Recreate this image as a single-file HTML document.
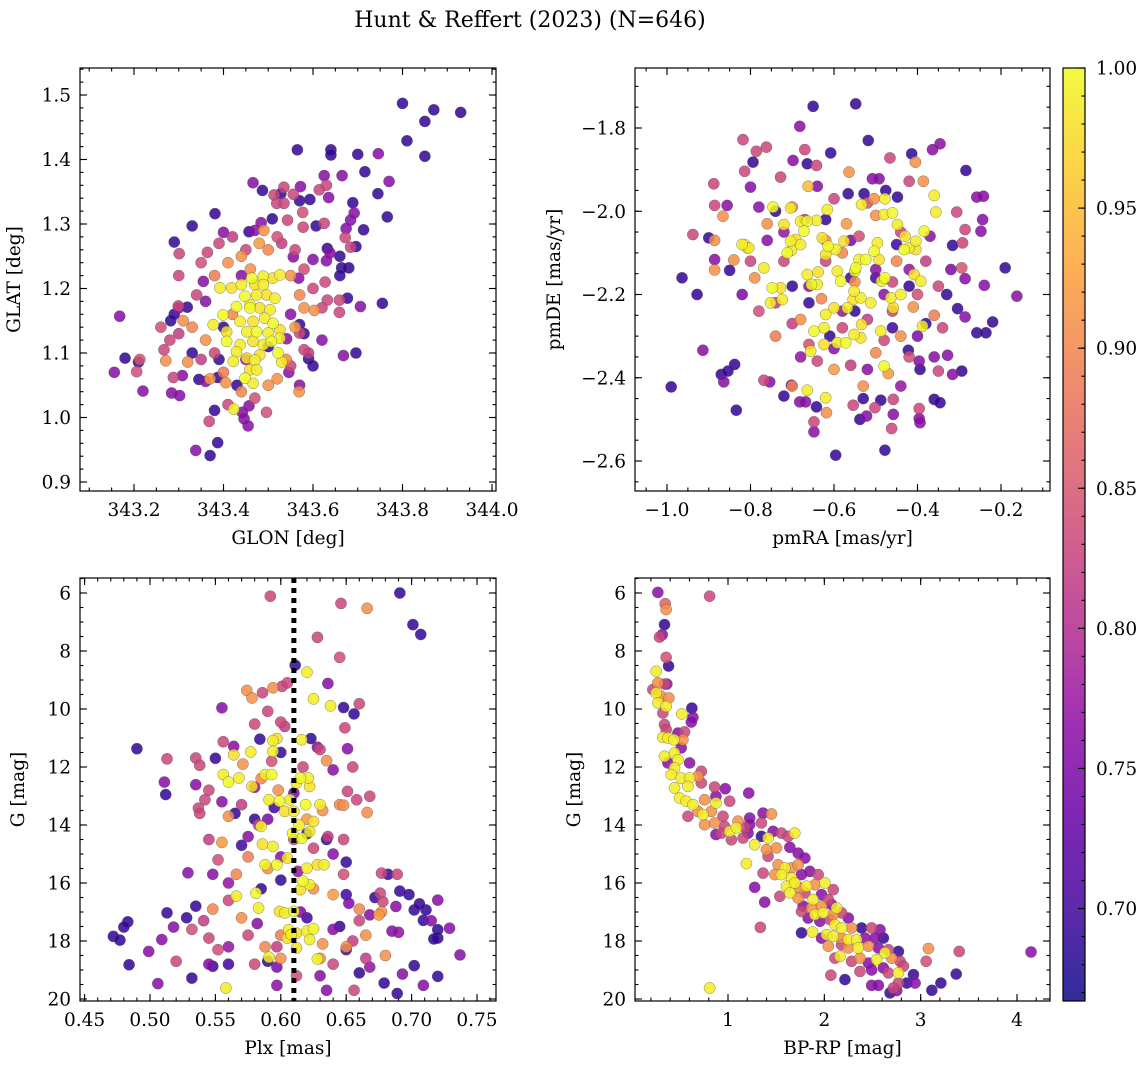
<!DOCTYPE html>
<html><head><meta charset="utf-8"><title>Hunt & Reffert (2023)</title>
<style>
html,body{margin:0;padding:0;background:#fff;}
svg{display:block;font-family:"DejaVu Serif","Liberation Serif",serif;}
</style></head>
<body>
<svg id="fig" width="1148" height="1068" viewBox="0 0 1148 1068" xmlns="http://www.w3.org/2000/svg">
<defs>
<linearGradient id="plasma" x1="0" y1="1" x2="0" y2="0">
<stop offset="0" stop-color="#0d0887"/><stop offset="0.1" stop-color="#41049d"/><stop offset="0.2" stop-color="#6a00a8"/>
<stop offset="0.3" stop-color="#8f0da4"/><stop offset="0.4" stop-color="#b12a90"/><stop offset="0.5" stop-color="#cc4778"/>
<stop offset="0.6" stop-color="#e16462"/><stop offset="0.7" stop-color="#f2844b"/><stop offset="0.8" stop-color="#fca636"/>
<stop offset="0.9" stop-color="#fcce25"/><stop offset="1" stop-color="#f0f921"/>
</linearGradient>
</defs>
<text x="530" y="27" text-anchor="middle" font-size="22" fill="#000">Hunt &amp; Reffert (2023) (N=646)</text>
</svg>
<script>
// ---------- Panel 1: GLON vs GLAT ----------
const glon1 = [
343.80,343.87,343.93,343.85,343.81,343.85,343.565,343.64,343.64,343.70,
343.746,343.625,343.665,343.716,343.77,343.466,343.487,343.535,343.572,343.614,
343.63,343.745,343.513,343.528,343.556,343.57,343.593,343.635,343.689,343.519,
343.535,343.381,343.509,343.543,343.577,343.766,343.33,343.484,343.578,343.607,
343.625,343.684,343.692,343.674,343.713,343.40,343.457,343.49,343.29,343.672,
343.696,343.684,343.632,343.301,343.364,343.66,343.638,343.556,343.6,343.63,
343.68,343.664,343.66,343.30,343.355,343.568,343.627,343.299,343.319,343.632,
343.659,343.677,343.755,343.706,343.659,343.168,343.282,343.18,343.213,343.21,
343.156,343.206,343.22,343.267,343.271,343.32,343.308,343.288,343.345,343.36,
343.284,343.302,343.387,343.405,343.423,343.38,343.368,343.442,343.457,343.446,
343.455,343.496,343.569,343.387,343.338,343.37,343.546,343.59,343.668,343.696,
343.58,343.541,343.57,343.603,343.57,
343.41,343.44,343.48,343.50,343.46,343.38,343.55,343.57,343.58,343.56,
343.54,343.52,343.40,343.36,343.33,343.31,343.37,343.44,343.50,343.42,
343.39,343.42,343.35,343.34,343.30,343.28,343.26,343.45,343.53,343.56,
343.58,343.60,343.59,343.55,343.47,343.41,343.35,343.38,343.52,343.62,
343.36,343.40,343.45,343.50,343.55,343.58,343.44,343.33,343.30,343.29,
343.62,343.60,343.47,343.43,343.57,343.39,
343.392,343.418,343.44,343.463,343.489,343.51,343.526,343.448,343.474,343.496,
343.515,343.429,343.459,343.481,343.504,343.399,343.437,343.466,343.492,343.511,
343.377,343.407,343.452,343.474,343.5,343.526,343.526,343.407,343.437,343.466,
343.489,343.507,343.429,343.452,343.47,343.522,343.53,343.459,343.474,343.448,
343.466,343.481,343.422,343.459,343.489,343.47];
const glat1 = [
1.487,1.477,1.473,1.459,1.429,1.405,1.415,1.415,1.407,1.408,
1.409,1.375,1.375,1.381,1.366,1.364,1.352,1.357,1.358,1.353,
1.36,1.347,1.345,1.347,1.346,1.336,1.338,1.341,1.333,1.332,
1.332,1.316,1.308,1.306,1.318,1.311,1.297,1.302,1.295,1.297,
1.301,1.306,1.317,1.293,1.291,1.287,1.288,1.29,1.272,1.279,
1.265,1.264,1.262,1.254,1.256,1.25,1.255,1.249,1.245,1.243,
1.232,1.232,1.22,1.22,1.211,1.216,1.21,1.173,1.171,1.182,
1.182,1.185,1.177,1.172,1.163,1.157,1.15,1.092,1.09,1.086,
1.07,1.071,1.041,1.105,1.088,1.086,1.065,1.062,1.059,1.056,
1.038,1.034,1.062,1.054,1.013,1.011,0.994,1.008,1.018,0.998,
0.987,1.008,1.04,0.961,0.949,0.941,1.07,1.091,1.096,1.1,
1.105,1.122,1.131,1.166,1.144,
1.24,1.25,1.27,1.26,1.23,1.22,1.22,1.19,1.17,1.14,
1.09,1.06,1.07,1.12,1.14,1.15,1.06,1.04,1.05,1.16,
1.27,1.28,1.24,1.19,1.13,1.12,1.14,1.26,1.27,1.26,
1.23,1.20,1.10,1.08,1.03,1.02,1.09,1.10,1.28,1.17,
1.18,1.14,1.09,1.11,1.16,1.13,1.22,1.10,1.17,1.16,
1.12,1.08,1.29,1.05,1.05,1.09,
1.201,1.201,1.206,1.216,1.219,1.216,1.221,1.188,1.190,1.190,
1.185,1.172,1.175,1.170,1.167,1.159,1.149,1.149,1.154,1.146,
1.144,1.133,1.133,1.133,1.131,1.136,1.123,1.118,1.113,1.118,
1.113,1.118,1.102,1.092,1.089,1.1,1.086,1.074,1.074,1.061,
1.053,1.097,1.087,1.170,1.206,1.206];
const prob1 = [
0.69,0.69,0.69,0.69,0.69,0.69,0.69,0.69,0.69,0.69,
0.76,0.76,0.76,0.69,0.76,0.76,0.69,0.83,0.76,0.83,
0.83,0.69,0.83,0.69,0.83,0.69,0.69,0.76,0.69,0.83,
0.83,0.69,0.69,0.83,0.84,0.69,0.69,0.76,0.83,0.69,
0.83,0.76,0.76,0.76,0.69,0.76,0.69,0.91,0.69,0.83,
0.69,0.83,0.69,0.83,0.83,0.69,0.76,0.76,0.76,0.76,
0.69,0.69,0.69,0.83,0.76,0.76,0.83,0.83,0.69,0.83,
0.83,0.69,0.69,0.76,0.83,0.76,0.69,0.69,0.85,0.69,
0.76,0.84,0.76,0.83,0.91,0.91,0.76,0.83,0.69,0.76,
0.76,0.76,0.69,0.91,0.99,0.69,0.83,0.76,0.76,0.76,
0.76,0.84,0.91,0.69,0.76,0.69,0.76,0.69,0.76,0.69,
0.83,0.76,0.83,0.91,0.69,
0.91,0.91,0.92,0.90,0.91,0.89,0.91,0.90,0.91,0.92,
0.90,0.91,0.89,0.91,0.90,0.91,0.92,0.90,0.91,0.90,
0.83,0.82,0.84,0.83,0.82,0.83,0.84,0.83,0.82,0.83,
0.84,0.83,0.82,0.83,0.84,0.83,0.82,0.83,0.84,0.83,
0.76,0.69,0.76,0.69,0.76,0.69,0.76,0.69,0.76,0.69,
0.76,0.69,0.76,0.69,0.76,0.69,
0.99,0.98,0.99,1.0,0.99,0.98,0.99,1.0,0.99,0.98,
0.99,1.0,0.99,0.98,0.99,1.0,0.99,0.98,0.99,1.0,
0.99,0.98,0.99,1.0,0.99,0.98,0.99,1.0,0.99,0.98,
0.99,1.0,0.99,0.98,0.99,1.0,0.99,0.98,0.99,1.0,
0.99,0.98,0.99,1.0,0.99,0.98];
const glonTicks = [343.2,343.4,343.6,343.8,344.0];
const glonTickLabels = ["343.2","343.4","343.6","343.8","344.0"];
const glatTicks = [0.9,1.0,1.1,1.2,1.3,1.4,1.5];
const glatTickLabels = ["0.9","1.0","1.1","1.2","1.3","1.4","1.5"];

// ---------- Panel 2: pmRA vs pmDE ----------
const pmra2 = [
-0.650,-0.548,-0.682,-0.518,-0.818,-0.786,-0.762,-0.670,-0.608,-0.466,
-0.414,-0.364,-0.346,-0.405,-0.794,-0.698,-0.664,-0.642,-0.284,-0.564,
-0.814,-0.888,-0.800,-0.728,-0.508,-0.492,-0.662,-0.566,-0.528,-0.476,
-0.420,-0.386,-0.360,-0.258,-0.242,-0.886,-0.856,-0.866,-0.534,-0.504,
-0.478,-0.448,-0.356,-0.306,-0.244,-0.248,-0.286,-0.938,-0.900,-0.886,
-0.964,-0.928,-0.886,-0.886,-0.840,-0.850,-0.814,-0.804,-0.316,-0.292,
-0.190,-0.162,-0.240,-0.286,-0.294,-0.220,-0.258,-0.236,-0.286,-0.304,
-0.914,-0.870,-0.864,-0.854,-0.838,-0.990,-0.834,-0.768,-0.754,-0.720,
-0.702,-0.682,-0.668,-0.642,-0.648,-0.648,-0.664,-0.620,-0.618,-0.596,
-0.538,-0.522,-0.530,-0.554,-0.502,-0.488,-0.478,-0.462,-0.458,-0.458,
-0.396,-0.396,-0.394,-0.360,-0.346,-0.316,-0.294,-0.350,-0.328,-0.360,
-0.396,-0.394,-0.422,
-0.820,-0.808,-0.768,-0.748,-0.752,-0.728,-0.724,-0.712,-0.702,-0.692,
-0.680,-0.664,-0.642,-0.628,-0.616,-0.614,-0.596,-0.620,-0.664,-0.654,
-0.640,-0.638,-0.592,-0.584,-0.568,-0.554,-0.550,-0.548,-0.536,-0.534,
-0.512,-0.504,-0.496,-0.492,-0.486,-0.478,-0.464,-0.458,-0.440,-0.432,
-0.420,-0.408,-0.392,-0.384,-0.404,-0.404,-0.480,-0.460,-0.448,-0.430,
-0.540,-0.524,-0.620,-0.600,-0.592,-0.572,-0.552,-0.536,-0.624,-0.648,
-0.656,-0.624,-0.488,-0.480,-0.388,-0.576,-0.552,-0.672,-0.704,-0.720,
-0.704,-0.746,-0.680,
-0.76,-0.70,-0.62,-0.57,-0.50,-0.45,-0.41,-0.36,-0.55,-0.63,
-0.68,-0.60,-0.50,-0.44,-0.74,-0.79,-0.70,-0.53,-0.47,-0.58,
-0.80,-0.74,-0.66,-0.58,-0.52,-0.46,-0.40,-0.35,-0.38,-0.44,
-0.52,-0.60,-0.67,-0.72,-0.78,-0.64,-0.56,-0.48,-0.42,-0.34,
-0.70,-0.62,-0.54,-0.46,
-0.78,-0.72,-0.64,-0.56,-0.50,-0.42,-0.37,-0.32,-0.66,-0.58,
-0.48,-0.40,-0.60,-0.68,-0.76,-0.82,-0.52,-0.44,
-0.74,-0.62,-0.56,-0.66,-0.55,-0.46,-0.38,-0.33,-0.45,-0.70,
-0.61,-0.50,-0.42];
const pmde2 = [
-1.748,-1.742,-1.796,-1.830,-1.828,-1.856,-1.846,-1.852,-1.860,-1.872,
-1.862,-1.852,-1.838,-1.882,-1.882,-1.878,-1.886,-1.890,-1.902,-1.906,
-1.904,-1.934,-1.942,-1.918,-1.922,-1.922,-1.940,-1.958,-1.958,-1.950,
-1.928,-1.928,-1.962,-1.966,-1.964,-1.986,-1.986,-2.012,-1.984,-1.970,
-1.970,-1.966,-2.002,-2.002,-2.020,-2.048,-2.044,-2.056,-2.064,-2.070,
-2.160,-2.200,-2.116,-2.141,-2.117,-2.142,-2.080,-2.088,-2.082,-2.076,
-2.136,-2.204,-2.178,-2.162,-2.136,-2.266,-2.292,-2.292,-2.254,-2.234,
-2.334,-2.392,-2.410,-2.384,-2.368,-2.422,-2.478,-2.406,-2.410,-2.444,
-2.418,-2.458,-2.458,-2.470,-2.506,-2.530,-2.430,-2.448,-2.484,-2.586,
-2.500,-2.492,-2.450,-2.466,-2.472,-2.454,-2.574,-2.522,-2.488,-2.452,
-2.474,-2.498,-2.508,-2.452,-2.460,-2.392,-2.384,-2.384,-2.346,-2.350,
-2.360,-2.380,-2.334,
-2.080,-2.088,-2.136,-2.184,-2.220,-2.184,-2.212,-2.100,-2.094,-2.068,
-2.080,-2.024,-2.022,-2.064,-1.996,-2.084,-2.092,-2.104,-2.152,-2.176,
-2.176,-2.146,-2.144,-2.168,-2.232,-2.212,-2.144,-2.136,-2.208,-2.272,
-2.220,-2.096,-2.076,-2.116,-2.168,-2.160,-2.208,-2.232,-2.200,-2.092,
-2.088,-2.152,-2.168,-2.048,-2.072,-2.092,-2.008,-2.004,-2.032,-2.060,
-2.116,-2.116,-2.248,-2.232,-2.316,-2.316,-2.296,-2.304,-2.280,-2.288,
-2.336,-2.320,-2.288,-2.372,-2.276,-2.072,-2.192,-2.048,-2.072,-2.032,
-1.992,-1.990,-2.024,
-2.03,-1.99,-2.07,-2.03,-2.01,-2.12,-2.23,-2.25,-2.17,-2.21,
-2.26,-2.38,-2.34,-2.30,-2.30,-2.16,-2.42,-2.42,-2.39,-2.10,
-2.12,-2.22,-2.32,-2.28,-2.26,-2.24,-2.20,-2.18,-2.12,-2.05,
-1.98,-1.97,-2.02,-2.12,-2.24,-2.36,-2.37,-2.31,-2.35,-2.28,
-2.27,-2.12,-2.06,-2.17,
-1.99,-2.05,-1.94,-2.07,-2.14,-2.14,-2.06,-2.14,-2.18,-2.24,
-2.20,-2.30,-2.33,-2.35,-2.07,-2.20,-2.38,-2.42,
-2.00,-2.02,-2.16,-2.22,-2.24,-2.28,-2.27,-2.20,-2.08,-2.18,
-2.30,-2.16,-2.18];
const prob2 = [
0.69,0.69,0.76,0.69,0.83,0.83,0.83,0.83,0.69,0.83,
0.69,0.76,0.76,0.91,0.69,0.76,0.69,0.83,0.69,0.91,
0.83,0.83,0.76,0.83,0.76,0.76,0.95,0.69,0.69,0.69,
0.83,0.91,0.99,0.76,0.76,0.83,0.76,0.91,0.99,0.91,
0.99,0.69,0.99,0.83,0.76,0.76,0.83,0.83,0.69,0.91,
0.69,0.69,0.76,0.91,0.91,0.69,0.99,0.99,0.69,0.83,
0.69,0.76,0.76,0.76,0.85,0.69,0.69,0.69,0.76,0.69,
0.76,0.69,0.76,0.69,0.69,0.69,0.69,0.83,0.76,0.69,
0.76,0.76,0.76,0.69,0.83,0.76,0.99,0.99,0.91,0.69,
0.69,0.76,0.69,0.83,0.83,0.69,0.69,0.83,0.76,0.83,
0.83,0.76,0.76,0.69,0.69,0.76,0.69,0.83,0.76,0.76,
0.76,0.69,0.69,
0.99,0.98,0.99,1.0,0.99,0.98,0.99,1.0,0.99,0.98,
0.99,1.0,0.99,0.98,0.99,1.0,0.99,0.98,0.99,1.0,
0.99,0.98,0.99,1.0,0.99,0.98,0.99,1.0,0.99,0.98,
0.99,1.0,0.99,0.98,0.99,1.0,0.99,0.98,0.99,1.0,
0.99,0.98,0.99,1.0,0.99,0.98,0.99,1.0,0.99,0.98,
0.99,1.0,0.99,0.98,0.99,1.0,0.99,0.98,0.99,1.0,
0.99,0.98,0.99,1.0,0.99,0.98,0.99,1.0,0.99,0.98,
0.99,1.0,0.99,
0.91,0.90,0.91,0.92,0.91,0.90,0.91,0.89,0.91,0.90,
0.91,0.92,0.90,0.91,0.89,0.91,0.90,0.91,0.92,0.90,
0.83,0.82,0.84,0.83,0.82,0.83,0.84,0.83,0.82,0.83,
0.84,0.83,0.82,0.83,0.84,0.83,0.82,0.83,0.84,0.83,
0.82,0.83,0.84,0.83,
0.76,0.77,0.76,0.75,0.76,0.77,0.76,0.75,0.76,0.77,
0.76,0.75,0.76,0.77,0.76,0.75,0.76,0.77,
0.69,0.69,0.70,0.69,0.69,0.70,0.69,0.69,0.70,0.69,
0.69,0.70,0.69];
const pmraTicks = [-1.0,-0.8,-0.6,-0.4,-0.2];
const pmraTickLabels = ["\u22121.0","\u22120.8","\u22120.6","\u22120.4","\u22120.2"];
const pmdeTicks = [-1.8,-2.0,-2.2,-2.4,-2.6];
const pmdeTickLabels = ["\u22121.8","\u22122.0","\u22122.2","\u22122.4","\u22122.6"];

// ---------- Panel 3: Plx vs G ----------
const plx3 = [
0.691,0.592,0.646,0.666,0.701,0.707,0.628,0.645,0.620,0.611,
0.636,0.574,0.578,0.586,0.594,0.601,0.605,0.555,0.590,0.625,
0.638,0.648,0.656,0.660,0.580,0.600,0.649,0.490,0.513,0.511,
0.512,0.535,0.538,0.535,0.542,0.537,0.556,0.564,0.584,0.594,
0.616,0.623,0.628,0.651,0.655,0.635,0.651,0.658,0.668,0.666,
0.648,0.513,0.528,0.518,0.483,0.480,0.472,0.477,0.484,0.499,
0.509,0.506,0.529,0.532,0.548,0.558,0.597,0.635,0.656,0.689,
0.679,0.709,0.720,0.702,0.693,0.737,0.729,0.720,0.717,0.720,
0.715,0.709,0.702,0.711,0.706,0.720,0.691,0.698,0.688,0.685,
0.677,0.678,0.676,0.677,0.682,0.689,0.650,
0.577,0.564,0.556,0.560,0.568,0.578,0.588,0.593,0.594,0.597,
0.612,0.615,0.621,0.622,0.607,0.599,0.591,0.603,0.610,0.619,
0.630,0.625,0.622,0.616,0.585,0.586,0.594,0.609,0.614,0.605,
0.588,0.597,0.620,0.628,0.633,0.617,0.622,0.615,0.566,0.581,
0.583,0.599,0.603,0.610,0.606,0.612,0.620,0.625,0.622,0.612,
0.591,0.628,0.608,0.605,
0.571,0.585,0.598,0.620,0.632,0.645,0.560,0.575,0.590,0.566,
0.625,0.640,0.548,0.570,0.600,0.632,0.660,0.665,0.675,0.588,
0.650,0.630,0.600,0.555,0.680,
0.538,0.545,0.552,0.560,0.541,0.545,0.552,0.575,0.597,0.580,
0.612,0.640,0.655,0.660,0.648,0.648,0.636,0.625,0.610,0.583,
0.570,0.545,0.593,0.617,0.603,0.630,0.532,0.520,0.665,
0.548,0.560,0.575,0.590,0.600,0.613,0.640,0.652,0.668,0.690,
0.640,0.615,0.582,0.560,0.545,0.597,0.630,0.668,0.555,0.610,
0.640,0.580,
0.565,0.580,0.595,0.620,0.635,0.650,0.672,0.600,0.570,0.550,
0.585,0.620,0.645,0.660,0.560,0.590,0.600,0.650,0.535];
const gmag3 = [
6.0,6.11,6.36,6.53,7.09,7.43,7.53,8.22,8.73,8.49,
9.12,9.36,9.62,9.44,9.27,9.22,9.1,9.96,10.08,9.65,
9.89,9.95,10.17,9.82,10.52,10.45,10.65,11.37,11.72,12.52,
12.95,11.69,11.94,12.61,13.13,13.42,11.13,11.29,11.04,11.09,
11.06,11.02,11.32,11.37,12.0,11.78,12.84,13.13,13.01,13.57,
13.32,17.03,17.2,17.52,17.34,17.52,17.84,17.97,18.82,18.36,
17.95,19.47,15.65,19.28,18.87,19.62,19.53,19.7,19.7,19.81,
19.45,19.53,19.22,18.85,19.14,18.48,17.56,17.9,17.93,17.61,
17.3,17.29,16.93,16.93,16.72,16.59,16.28,16.4,16.81,17.66,
17.0,16.64,16.35,15.66,15.7,15.7,15.28,
11.48,11.58,12.26,12.52,12.38,12.67,12.26,12.26,11.46,11.02,
12.55,12.38,12.38,12.67,13.13,13.18,13.13,13.53,13.53,13.3,
13.3,13.88,14.23,14.46,14.05,14.66,14.74,14.29,14.0,15.14,
15.37,15.37,15.49,15.37,15.37,15.94,16.06,16.23,16.45,16.35,
16.86,16.98,17.03,16.98,17.61,17.73,17.66,17.58,17.95,18.24,
18.56,18.62,17.78,17.9,
11.9,12.4,12.8,13.8,13.5,13.3,13.7,15.1,15.5,15.7,
16.2,16.4,16.9,17.2,17.8,18.1,16.9,17.8,17.1,18.2,
18.2,18.6,18.6,14.6,18.5,
13.6,14.5,15.2,16.6,17.3,17.9,18.3,17.8,18.2,18.8,
19.2,18.8,18.0,17.3,15.7,14.5,14.4,14.8,14.5,14.0,
13.3,12.8,11.8,12.0,10.6,11.4,17.6,18.7,18.6,
15.7,16.0,14.4,13.8,15.1,15.6,15.0,16.7,17.1,17.7,
17.6,17.0,17.4,18.2,18.8,18.9,19.2,18.9,13.2,12.9,
12.1,12.7,
13.6,13.8,13.4,14.3,14.5,16.4,16.5,15.9,14.7,11.7,
16.2,17.2,17.5,19.1,18.8,18.7,11.5,18.3,16.8];
const prob3 = [
0.69,0.83,0.83,0.91,0.69,0.69,0.83,0.84,0.99,0.69,
0.76,0.91,0.91,0.83,0.91,0.83,0.83,0.76,0.83,0.99,
0.99,0.69,0.69,0.83,0.83,0.83,0.83,0.69,0.83,0.76,
0.69,0.83,0.83,0.76,0.83,0.83,0.83,0.76,0.69,0.99,
0.99,0.69,0.76,0.76,0.83,0.91,0.83,0.83,0.83,0.91,
0.91,0.69,0.69,0.76,0.69,0.69,0.69,0.69,0.69,0.76,
0.76,0.76,0.76,0.69,0.69,0.99,0.76,0.76,0.83,0.69,
0.69,0.76,0.69,0.69,0.76,0.76,0.76,0.69,0.69,0.69,
0.76,0.69,0.69,0.69,0.69,0.76,0.69,0.69,0.76,0.76,
0.91,0.83,0.83,0.83,0.69,0.83,0.69,
0.99,0.98,0.99,1.0,0.99,0.98,0.99,1.0,0.99,0.98,
0.99,1.0,0.99,0.98,0.99,1.0,0.99,0.98,0.99,1.0,
0.99,0.98,0.99,1.0,0.99,0.98,0.99,1.0,0.99,0.98,
0.99,1.0,0.99,0.98,0.99,1.0,0.99,0.98,0.99,1.0,
0.99,0.98,0.99,1.0,0.99,0.98,0.99,1.0,0.99,0.98,
0.99,1.0,0.99,0.98,
0.91,0.90,0.91,0.92,0.91,0.90,0.91,0.89,0.91,0.90,
0.91,0.92,0.90,0.91,0.89,0.91,0.90,0.91,0.92,0.90,
0.91,0.90,0.91,0.92,0.91,
0.83,0.82,0.84,0.83,0.82,0.83,0.84,0.83,0.82,0.83,
0.84,0.83,0.82,0.83,0.84,0.83,0.82,0.83,0.84,0.83,
0.82,0.83,0.84,0.83,0.82,0.83,0.84,0.83,0.82,
0.76,0.77,0.76,0.75,0.76,0.77,0.76,0.75,0.76,0.77,
0.76,0.75,0.76,0.77,0.76,0.75,0.76,0.77,0.76,0.75,
0.76,0.77,
0.69,0.69,0.70,0.69,0.69,0.70,0.69,0.69,0.70,0.69,
0.69,0.70,0.69,0.69,0.70,0.69,0.69,0.70,0.69];
const plxTicks = [0.45,0.50,0.55,0.60,0.65,0.70,0.75];
const plxTickLabels = ["0.45","0.50","0.55","0.60","0.65","0.70","0.75"];
const gTicks = [6,8,10,12,14,16,18,20];
const gTickLabels = ["6","8","10","12","14","16","18","20"];
const plxReference = [0.61];

// ---------- Panel 4: BP-RP vs G ----------
const bprp4 = [
0.272,0.809,0.348,0.358,0.341,0.317,0.289,0.358,0.383,0.254,
0.272,0.341,0.365,0.22,0.254,0.306,0.386,0.272,0.358,0.324,
0.625,0.636,0.619,0.521,0.341,0.358,0.480,0.549,0.324,0.376,
0.438,0.532,0.514,0.341,0.445,0.480,0.376,0.601,0.445,0.723,
0.41,0.514,0.601,0.688,0.445,0.584,0.723,0.861,0.972,1.215,
0.875,0.497,0.566,0.636,0.757,0.875,1.017,0.688,0.74,0.826,
0.948,0.584,1.104,1.225,1.364,1.451,0.757,0.861,0.965,1.017,
1.087,1.173,1.225,1.347,0.875,0.931,1.035,1.156,1.208,1.277,
1.347,1.416,1.468,1.555,1.624,1.693,1.191,1.399,1.503,1.416,
1.642,1.728,1.798,1.520,1.590,1.659,1.728,1.486,1.555,1.659,
1.763,1.850,1.936,1.364,1.277,1.381,1.336,1.607,1.693,1.745,
1.815,1.902,2.006,2.093,1.538,1.642,1.728,1.798,1.884,1.971,
2.041,1.780,1.867,1.971,2.075,2.127,1.763,1.902,1.988,2.093,
2.179,2.249,1.832,1.954,2.058,2.110,2.179,2.283,2.387,2.491,
2.578,1.763,1.877,1.971,2.023,2.093,2.179,2.249,2.335,2.422,
2.526,2.613,2.041,2.179,2.249,2.353,2.457,2.561,2.665,2.769,
2.110,2.162,2.283,2.370,2.457,2.543,2.630,2.699,2.786,2.370,
2.491,2.613,2.665,2.769,2.821,2.925,2.942,2.769,2.856,2.717,
2.682,2.752,2.491,2.561,2.214,2.068,0.809,3.081,3.057,3.4,
4.146,3.369,3.21,3.116];
const gmag4 = [
5.98,6.11,6.37,6.57,7.09,7.44,7.52,8.22,8.52,8.70,
9.1,9.14,9.14,9.33,9.45,9.56,9.62,9.79,9.91,10.14,
9.97,10.29,10.45,10.17,10.54,10.71,10.83,10.79,10.98,11.0,
11.06,11.06,11.34,11.63,11.52,11.75,11.86,11.86,12.03,12.15,
12.26,12.38,12.38,12.32,12.72,12.67,12.55,12.69,12.75,12.9,
13.01,13.07,13.18,13.3,13.13,13.24,13.18,13.53,13.64,13.53,
13.7,13.7,13.87,13.76,13.59,13.62,13.99,13.93,14.05,14.22,
14.1,14.08,13.99,13.93,14.33,14.28,14.51,14.45,14.28,14.68,
14.39,14.45,14.22,14.28,14.39,14.28,15.33,14.85,14.79,15.08,
14.77,14.97,15.14,15.37,15.48,15.48,15.37,15.71,15.71,15.83,
15.71,15.6,15.71,15.66,16.15,16.66,17.53,16.11,16.0,16.17,
16.11,16.06,16.0,16.23,16.46,16.34,16.52,16.34,16.57,16.4,
16.57,16.8,16.86,16.8,16.74,16.86,16.98,17.09,17.03,17.09,
17.03,17.21,17.21,17.32,17.26,17.44,17.55,17.55,17.55,17.55,
17.61,17.72,17.69,17.9,17.78,17.84,17.9,17.95,17.95,17.9,
17.9,17.9,18.18,18.13,18.24,18.24,18.18,18.24,18.3,18.36,
18.59,18.53,18.7,18.59,18.76,18.64,18.41,18.59,18.7,19.05,
19.0,18.93,19.1,19.1,18.87,19.16,19.45,19.45,19.45,19.62,
19.79,19.71,19.53,19.53,19.33,19.18,19.62,18.26,18.7,18.36,
18.38,19.14,19.45,19.7];
const prob4 = [
0.76,0.83,0.86,0.91,0.69,0.76,0.83,0.84,0.69,0.99,
0.91,0.83,0.76,0.83,0.99,0.91,0.91,0.99,0.99,0.83,
0.69,0.76,0.76,0.99,0.83,0.83,0.76,0.83,0.99,0.99,
0.99,0.91,0.76,0.99,0.99,0.99,0.76,0.76,0.99,0.83,
0.99,0.99,0.99,0.91,0.99,0.99,0.83,0.83,0.76,0.76,
0.76,0.99,0.99,0.99,0.91,0.99,0.83,0.91,0.99,0.91,
0.83,0.83,0.91,0.76,0.76,0.91,0.91,0.91,0.83,0.99,
0.99,0.83,0.76,0.83,0.76,0.83,0.83,0.83,0.76,0.99,
0.69,0.99,0.76,0.83,0.83,0.99,0.99,0.91,0.91,0.83,
0.76,0.76,0.76,0.91,0.99,0.91,0.91,0.91,0.99,0.99,
0.76,0.76,0.83,0.83,0.76,0.76,0.83,0.99,0.99,0.91,
0.99,0.91,0.99,0.83,0.83,0.99,0.91,0.83,0.99,0.76,
0.83,0.76,0.91,0.91,0.76,0.99,0.83,0.99,0.99,0.91,
0.83,0.76,0.76,0.76,0.83,0.99,0.99,0.91,0.69,0.83,
0.76,0.69,0.99,0.76,0.99,0.99,0.91,0.99,0.99,0.76,
0.76,0.69,0.91,0.83,0.91,0.99,0.91,0.76,0.83,0.69,
0.83,0.99,0.83,0.91,0.76,0.99,0.99,0.91,0.83,0.83,
0.76,0.76,0.83,0.99,0.83,0.69,0.76,0.83,0.69,0.83,
0.69,0.76,0.76,0.76,0.69,0.83,0.99,0.91,0.84,0.83,
0.76,0.69,0.69,0.69];
const bprpTicks = [1,2,3,4];
const bprpTickLabels = ["1","2","3","4"];

// ---------- Colorbar ----------
const cbarTicks = [0.70,0.75,0.80,0.85,0.90,0.95,1.00];
const cbarTickLabels = ["0.70","0.75","0.80","0.85","0.90","0.95","1.00"];
const VMIN = 0.667, VMAX = 1.0;

// ================= drawing =================
const NS = "http://www.w3.org/2000/svg";
const svg = document.getElementById('fig');
const FS = 18.5;
function el(tag, attrs, parent){
  const e = document.createElementNS(NS, tag);
  for (const k in attrs) e.setAttribute(k, attrs[k]);
  (parent||svg).appendChild(e);
  return e;
}
const PLASMA = [[13,8,135],[65,4,157],[106,0,168],[143,13,164],[177,42,144],[204,71,120],[225,100,98],[242,132,75],[252,166,54],[252,206,37],[240,249,33]];
function plasma(v){
  let t = (v - VMIN)/(VMAX - VMIN); t = Math.max(0, Math.min(1, t));
  const f = t*10, i = Math.min(9, Math.floor(f)), u = f - i;
  const a = PLASMA[i], b = PLASMA[i+1];
  return 'rgb(' + a.map((c,k)=>Math.round(c + (b[k]-c)*u)).join(',') + ')';
}
function lin(d0,d1,r0,r1){ return v => r0 + (v-d0)/(d1-d0)*(r1-r0); }

function makePanel(name, box, xs, ys, xMaj, xLab, xMinStep, xMinRange, yMaj, yLab, yMinStep, yMinRange, xTitle, yTitle, yTitleX){
  const g = el('g', {});
  
  
  const [L,T,R,B] = box;
  const tg = el('g', {stroke:'#000','stroke-width':1.1}, g);
  
  
  for (let v = xMinRange[0]; v <= xMinRange[1] + 1e-9; v += xMinStep){
    const x = xs(v); if (x < L+0.5 || x > R-0.5) continue;
    el('line',{x1:x,y1:B,x2:x,y2:B-3.5},tg); el('line',{x1:x,y1:T,x2:x,y2:T+3.5},tg);
  }
  for (let v = yMinRange[0]; v <= yMinRange[1] + 1e-9; v += yMinStep){
    const y = ys(v); if (y < T+0.5 || y > B-0.5) continue;
    el('line',{x1:L,y1:y,x2:L+3.5,y2:y},tg); el('line',{x1:R,y1:y,x2:R-3.5,y2:y},tg);
  }
  xMaj.forEach((v,i)=>{
    const x = xs(v);
    el('line',{x1:x,y1:B,x2:x,y2:B-7},tg); el('line',{x1:x,y1:T,x2:x,y2:T+7},tg);
    const t = el('text',{x:x,y:B+25,'text-anchor':'middle','font-size':FS,fill:'#000'},g);
    t.textContent = xLab[i];
    
    
  });
  yMaj.forEach((v,i)=>{
    const y = ys(v);
    el('line',{x1:L,y1:y,x2:L+7,y2:y},tg); el('line',{x1:R,y1:y,x2:R-7,y2:y},tg);
    const t = el('text',{x:L-9,y:y+6.5,'text-anchor':'end','font-size':FS,fill:'#000'},g);
    t.textContent = yLab[i];
    
    
  });
  const xt = el('text',{x:(L+R)/2,y:B+53,'text-anchor':'middle','font-size':FS,fill:'#000'},g);
  xt.textContent = xTitle;
  
  
  const cy = (T+B)/2;
  const yt = el('text',{x:yTitleX,y:cy,'text-anchor':'middle','font-size':FS,fill:'#000',transform:'rotate(-90 '+yTitleX+' '+cy+')'},g);
  yt.textContent = yTitle;
  
  
  return g;
}
function scatter(panel, name, box, xs, ys, X, Y, P){
  const [L,T,R,B] = box;
  const id = 'clip-' + name;
  const cp = el('clipPath',{id:id}); el('rect',{x:L,y:T,width:R-L,height:B-T},cp);
  const g = el('g',{'clip-path':'url(#'+id+')'}, panel);
  
  
  const idx = P.map((p,i)=>i).sort((a,b)=>P[a]-P[b]);
  idx.forEach(i=>{
    const c = el('circle',{cx:xs(X[i]),cy:ys(Y[i]),r:5.6,fill:plasma(P[i]),'fill-opacity':0.85,stroke:'#555','stroke-opacity':0.7,'stroke-width':0.5},g);
    
    
  });
  return g;
}
function frame(panel, name, box){
  const [L,T,R,B] = box;
  const f = el('rect',{x:L,y:T,width:R-L,height:B-T,fill:'none',stroke:'#000','stroke-width':1.2},panel);
  
  
}

const box1 = [80,68,496,491];
const x1 = lin(343.2,344.0,134,492), y1 = lin(1.5,0.9,95,482);
const p1 = makePanel('panel-glon-glat', box1, x1, y1, glonTicks, glonTickLabels, 0.05, [343.05,344.05], glatTicks, glatTickLabels, 0.02, [0.88,1.56], 'GLON [deg]', 'GLAT [deg]', 20);
scatter(p1,'glon-glat',box1,x1,y1,glon1,glat1,prob1);
frame(p1,'panel-glon-glat',box1);

const box2 = [635,68,1050,491];
const x2 = lin(-1.0,-0.2,667,1001), y2 = lin(-1.8,-2.6,128,461);
const p2 = makePanel('panel-pm', box2, x2, y2, pmraTicks, pmraTickLabels, 0.05, [-1.1,-0.05], pmdeTicks, pmdeTickLabels, 0.05, [-2.7,-1.6], 'pmRA [mas/yr]', 'pmDE [mas/yr]', 560);
scatter(p2,'pm',box2,x2,y2,pmra2,pmde2,prob2);
frame(p2,'panel-pm',box2);

const box3 = [80,578,496,1001];
const x3 = lin(0.50,0.75,150,477), y3 = lin(6,20,593,999);
const p3 = makePanel('panel-plx-g', box3, x3, y3, plxTicks, plxTickLabels, 0.01, [0.44,0.77], gTicks, gTickLabels, 0.5, [5,20.5], 'Plx [mas]', 'G [mag]', 24);
scatter(p3,'plx-g',box3,x3,y3,plx3,gmag3,prob3);
plxReference.forEach(v=>{
  const l = el('line',{x1:x3(v),y1:578,x2:x3(v),y2:1001,stroke:'#000','stroke-width':5,'stroke-dasharray':'5 5'},p3);
  
  
});
frame(p3,'panel-plx-g',box3);

const box4 = [635,578,1050,1001];
const x4 = lin(1,4,728,1017), y4 = lin(6,20,593,999);
const p4 = makePanel('panel-cmd', box4, x4, y4, bprpTicks, bprpTickLabels, 0.2, [0,4.4], gTicks, gTickLabels, 0.5, [5,20.5], 'BP-RP [mag]', 'G [mag]', 580);
scatter(p4,'cmd',box4,x4,y4,bprp4,gmag4,prob4);
frame(p4,'panel-cmd',box4);

const cb = el('g',{});


const cbL = 1063, cbR = 1085, cbT = 68, cbB = 1001;
const cy = lin(VMIN, VMAX, cbB, cbT);
const grad = el('rect',{x:cbL,y:cbT,width:cbR-cbL,height:cbB-cbT,fill:'url(#plasma)','fill-opacity':0.85},cb);


for (let v = 0.67; v <= 1.0001; v += 0.01){
  const y = cy(v);
  el('line',{x1:cbR,y1:y,x2:cbR-3.5,y2:y,stroke:'#000','stroke-width':1.1},cb);
}
cbarTicks.forEach((v,i)=>{
  const y = cy(v);
  el('line',{x1:cbR,y1:y,x2:cbR-7,y2:y,stroke:'#000','stroke-width':1.1},cb);
  const t = el('text',{x:1096,y:y+6.5,'font-size':FS,fill:'#000'},cb);
  t.textContent = cbarTickLabels[i];
  
  
});
el('rect',{x:cbL,y:cbT,width:cbR-cbL,height:cbB-cbT,fill:'none',stroke:'#000','stroke-width':1.2},cb);
</script>
</body></html>
